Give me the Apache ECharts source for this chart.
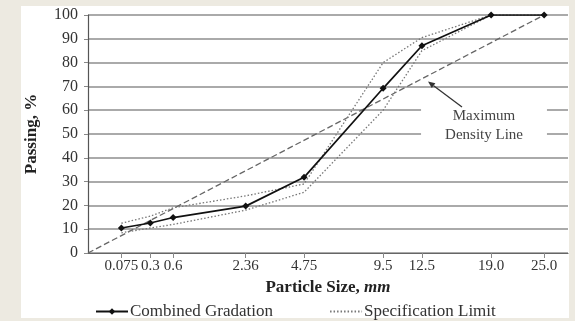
<!DOCTYPE html>
<html><head><meta charset="utf-8">
<script src="https://cdn.jsdelivr.net/npm/echarts@6/dist/echarts.min.js"></script>
<style>
html,body{margin:0;padding:0;background:#EDEAE1;width:575px;height:321px;overflow:hidden}
#panel{position:absolute;left:21px;top:6px;width:548px;height:312px;background:#fff}
#chart{position:absolute;left:0;top:0;width:575px;height:321px}
</style></head><body>
<div id="panel"></div><div id="chart"></div>
<script>
// ---- data ----
const sieveSizes = [0.075, 0.3, 0.6, 2.36, 4.75, 9.5, 12.5, 19.0, 25.0];
const sieveLabels = ['0.075', '0.3', '0.6', '2.36', '4.75', '9.5', '12.5', '19.0', '25.0'];
const combinedGradation = [10.5, 12.6, 14.9, 19.7, 31.8, 69.2, 87.1, 100, 100];
const specUpper = [12.5, 15.5, 19, 24, 29, 80, 90.5, 100, 100];
const specLower = [8.5, 10.5, 12, 18, 25.5, 60, 85, 100, 100];
const densitySizes = [0, 25.0];
const densityValues = [0, 100];
const maxSize = 28;
const yMin = 0, yMax = 100, yInterval = 10;
const POWER = 0.45;

const FONT = '"Liberation Serif", "Times New Roman", serif';
const xf = d => Math.pow(d, POWER);
const toPts = (sizes, vals) => sizes.map((s, i) => [xf(s), vals[i]]);
const tickVals = sieveSizes.map(xf);

const chart = echarts.init(document.getElementById('chart'), null, {renderer: 'canvas'});

// annotation arrow geometry (pixel)
const ax1 = 462, ay1 = 107, ax2 = 428, ay2 = 81.5;
const dx = ax2 - ax1, dy = ay2 - ay1, L = Math.hypot(dx, dy);
const ux = dx / L, uy = dy / L;
const bx = ax2 - ux * 7, by = ay2 - uy * 7;
const head = [[ax2, ay2], [bx - uy * 3, by + ux * 3], [bx + uy * 3, by - ux * 3]];

chart.setOption({
  animation: false,
  backgroundColor: 'transparent',
  grid: {left: 88, right: 7, top: 15, bottom: 68},
  xAxis: {
    type: 'value', min: 0, max: xf(maxSize),
    axisLine: {show: true, lineStyle: {color: '#666', width: 1.2}},
    splitLine: {show: false},
    axisTick: {show: true, customValues: tickVals, length: 5, lineStyle: {color: '#888'}},
    axisLabel: {
      customValues: tickVals, margin: 6,
      fontFamily: FONT, fontSize: 15, color: '#333',
      formatter: v => {
        let best = 0, bd = Infinity;
        tickVals.forEach((t, i) => { const d = Math.abs(t - v); if (d < bd) { bd = d; best = i; } });
        return sieveLabels[best];
      }
    },
    name: '{b|Particle Size, }{i|mm}', nameLocation: 'middle', nameGap: 26,
    nameTextStyle: {
      rich: {
        b: {fontFamily: FONT, fontWeight: 'bold', fontSize: 17, color: '#222'},
        i: {fontFamily: FONT, fontWeight: 'bold', fontStyle: 'italic', fontSize: 17, color: '#222'}
      }
    }
  },
  yAxis: {
    type: 'value', min: yMin, max: yMax, interval: yInterval,
    axisLine: {show: true, lineStyle: {color: '#555', width: 1.2}},
    axisTick: {show: true, length: 4, lineStyle: {color: '#888'}},
    splitLine: {show: true, lineStyle: {color: '#aaa', width: 2}},
    axisLabel: {fontFamily: FONT, fontSize: 16, color: '#333', margin: 10},
    name: 'Passing, %', nameLocation: 'middle', nameGap: 48,
    nameTextStyle: {fontFamily: FONT, fontWeight: 'bold', fontSize: 17, color: '#222'}
  },
  legend: {
    data: [
      {name: 'Combined Gradation'},
      {name: 'Specification Limit', itemStyle: {opacity: 0}}
    ],
    left: 90, top: 298, itemWidth: 32, itemHeight: 8, itemGap: 56,
    textStyle: {fontFamily: FONT, fontSize: 17, color: '#333', padding: [0, 0, 0, -3]}
  },
  series: [
    {
      name: 'Maximum Density Line', type: 'line', symbol: 'none', z: 3,
      data: toPts(densitySizes, densityValues),
      lineStyle: {color: '#666', width: 1.3, type: [6, 3]}
    },
    {
      name: 'Specification Limit', type: 'line', symbol: 'none', z: 3,
      data: toPts(sieveSizes, specUpper),
      itemStyle: {color: '#777'},
      lineStyle: {color: '#777', width: 1.3, type: [1.5, 2]}
    },
    {
      name: 'Specification Limit', type: 'line', symbol: 'none', z: 3,
      data: toPts(sieveSizes, specLower),
      itemStyle: {color: '#777'},
      lineStyle: {color: '#777', width: 1.3, type: [1.5, 2]}
    },
    {
      name: 'Combined Gradation', type: 'line', symbol: 'diamond', symbolSize: 7, z: 5,
      data: toPts(sieveSizes, combinedGradation),
      itemStyle: {color: '#111'},
      lineStyle: {color: '#111', width: 1.7}
    }
  ],
  graphic: [
    {
      type: 'text', z: 20, x: 484, y: 126,
      style: {
        text: 'Maximum\nDensity Line', fill: '#444', fontFamily: FONT, fontSize: 15,
        align: 'center', verticalAlign: 'middle', lineHeight: 19,
        backgroundColor: '#fff', padding: [1, 24]
      }
    },
    {
      type: 'line', z: 20,
      shape: {x1: ax1, y1: ay1, x2: bx, y2: by},
      style: {stroke: '#333', lineWidth: 1.3}
    },
    {
      type: 'polygon', z: 20,
      shape: {points: head},
      style: {fill: '#333'}
    }
  ]
});
</script>
</body></html>
